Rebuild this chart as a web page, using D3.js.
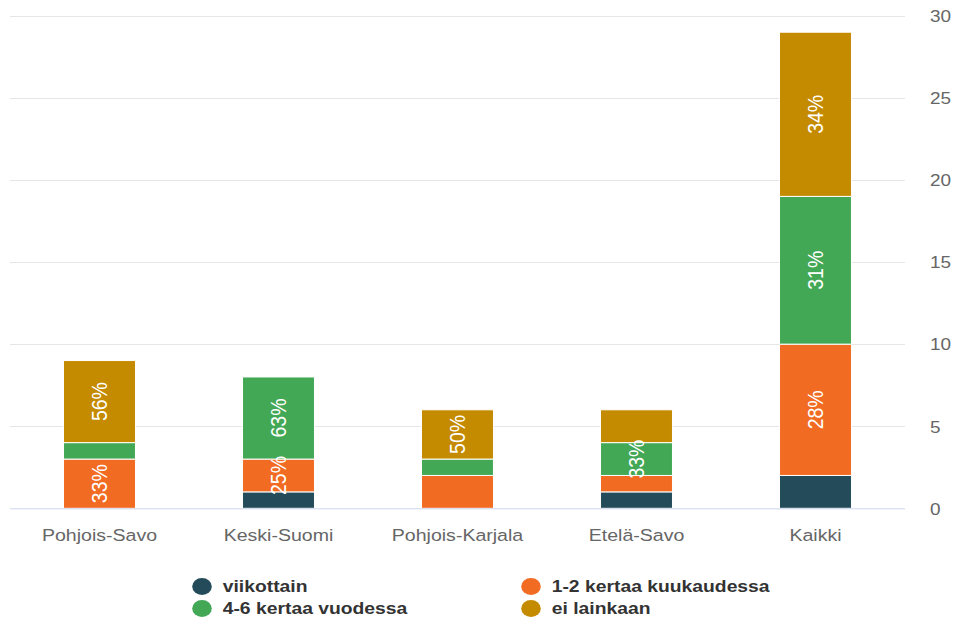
<!DOCTYPE html>
<html>
<head>
<meta charset="utf-8">
<script src="https://cdn.jsdelivr.net/npm/d3@7"></script>
<style>
  html, body { margin: 0; padding: 0; background: #ffffff; }
  svg { display: block; }
  text { font-family: "Liberation Sans", Arial, Helvetica, sans-serif; }
</style>
</head>
<body>
<div id="chart"></div>
<script>
// Categories (regions) and stacked series, bottom to top
const categories = ["Pohjois-Savo", "Keski-Suomi", "Pohjois-Karjala", "Etelä-Savo", "Kaikki"];
const seriesNames = ["viikottain", "1-2 kertaa kuukaudessa", "4-6 kertaa vuodessa", "ei lainkaan"];
const seriesColors = ["#234b59", "#f26b22", "#43a856", "#c48a00"];

const viikottain        = [0, 1, 0, 1, 2];
const kertaaKuukaudessa = [3, 2, 2, 1, 8];
const kertaaVuodessa    = [1, 5, 1, 2, 9];
const eiLainkaan        = [5, 0, 3, 2, 10];

// Which segments carry a percentage label
const labelViikottain   = [false, false, false, false, false];
const labelKuukaudessa  = [true, true, false, false, true];
const labelVuodessa     = [false, true, false, true, true];
const labelEiLainkaan   = [true, false, true, false, true];

const yTicks = [0, 5, 10, 15, 20, 25, 30];

const seriesValues = [viikottain, kertaaKuukaudessa, kertaaVuodessa, eiLainkaan];
const seriesLabels = [labelViikottain, labelKuukaudessa, labelVuodessa, labelEiLainkaan];

// Drawing space is laid out narrower and stretched to the page width
const W = 959, H = 621, SX = 1.15;
const IW = W / SX;

const svg = d3.select("#chart").append("svg")
  .attr("width", W).attr("height", H)
  .attr("viewBox", `0 0 ${IW} ${H}`)
  .attr("preserveAspectRatio", "none");

const plot = { left: 10 / SX, right: 905 / SX, top: 15.8, bottom: 508.3 };

const x = d3.scaleBand()
  .domain(categories)
  .range([plot.left, plot.right])
  .paddingInner(0.598)
  .paddingOuter(0.299);

const y = d3.scaleLinear().domain([0, 30]).range([plot.bottom, plot.top]);

// Gridlines
svg.append("g").selectAll("line")
  .data(yTicks.filter(t => t !== 0))
  .join("line")
  .attr("x1", plot.left).attr("x2", plot.right)
  .attr("y1", d => Math.round(y(d)) + 0.5).attr("y2", d => Math.round(y(d)) + 0.5)
  .attr("stroke", "#e6e6e6").attr("stroke-width", 1)
  .attr("vector-effect", "non-scaling-stroke");

// Y axis on the right
const yAxis = d3.axisRight(y).tickValues(yTicks).tickSize(0).tickPadding(0);
const yg = svg.append("g")
  .attr("transform", `translate(${930 / SX},0)`)
  .call(yAxis);
yg.select(".domain").remove();
yg.selectAll("text")
  .attr("x", 0).attr("dy", "0.35em")
  .attr("fill", "#666666")
  .attr("font-size", "16.5px")
  .attr("text-anchor", "start");

// Stack data
const rows = categories.map((c, i) => {
  const r = { category: c };
  seriesNames.forEach((s, k) => { r[s] = seriesValues[k][i]; });
  return r;
});
const totals = categories.map((c, i) => d3.sum(seriesValues, v => v[i]));
const stacked = d3.stack().keys(seriesNames)(rows);

const layers = svg.append("g").selectAll("g")
  .data(stacked)
  .join("g")
  .attr("fill", (d, k) => seriesColors[k]);

layers.selectAll("rect")
  .data(d => d.filter(p => p[1] - p[0] > 0))
  .join("rect")
  .attr("x", p => x(p.data.category))
  .attr("width", x.bandwidth())
  .attr("y", p => y(p[1]))
  .attr("height", p => y(p[0]) - y(p[1]))
  .attr("stroke", "#ffffff")
  .attr("stroke-width", 1)
  .attr("vector-effect", "non-scaling-stroke");

// Zero line
svg.append("line")
  .attr("x1", plot.left).attr("x2", plot.right)
  .attr("y1", y(0) + 0.5).attr("y2", y(0) + 0.5)
  .attr("stroke", "#ccd6eb").attr("stroke-width", 1)
  .attr("vector-effect", "non-scaling-stroke");

// Percentage labels, rotated inside the segments
const labelData = [];
stacked.forEach((layer, k) => {
  layer.forEach((p, i) => {
    if (seriesLabels[k][i] && p[1] - p[0] > 0) {
      labelData.push({
        cx: x(p.data.category) + x.bandwidth() / 2,
        cy: (y(p[0]) + y(p[1])) / 2,
        text: Math.round(100 * (p[1] - p[0]) / totals[i]) + "%"
      });
    }
  });
});
svg.append("g").selectAll("text")
  .data(labelData)
  .join("text")
  .attr("transform", d => `translate(${d.cx},${d.cy}) rotate(-90)`)
  .attr("text-anchor", "middle")
  .attr("dy", "0.35em")
  .attr("fill", "#ffffff")
  .attr("font-size", "19.5px")
  .text(d => d.text);

// Category labels
const xAxis = d3.axisBottom(x).tickSize(0).tickPadding(0);
const xg = svg.append("g").attr("transform", `translate(0,${541})`).call(xAxis);
xg.select(".domain").remove();
xg.selectAll("text")
  .attr("y", 0).attr("dy", 0)
  .attr("fill", "#666666")
  .attr("font-size", "17px");

// Legend
const legendPos = [
  { cx: 202 / SX, cy: 586.5 },
  { cx: 531 / SX, cy: 586.5 },
  { cx: 202 / SX, cy: 608.5 },
  { cx: 531 / SX, cy: 608.5 }
];
const legend = svg.append("g").selectAll("g")
  .data(seriesNames)
  .join("g")
  .attr("transform", (d, k) => `translate(${legendPos[k].cx},${legendPos[k].cy})`);
legend.append("circle")
  .attr("r", 8.5)
  .attr("fill", (d, k) => seriesColors[k]);
legend.append("text")
  .attr("x", 18)
  .attr("dy", "0.35em")
  .attr("fill", "#333333")
  .attr("font-size", "16.8px")
  .attr("font-weight", "bold")
  .text(d => d);
</script>
</body>
</html>
